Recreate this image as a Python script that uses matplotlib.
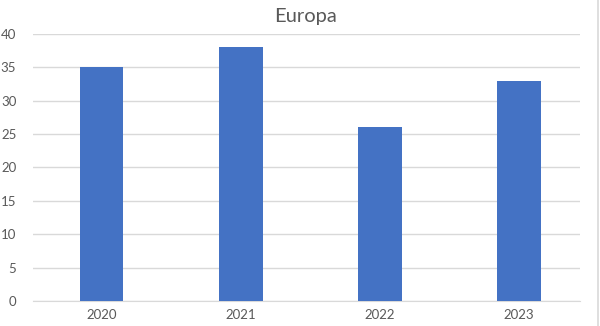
import matplotlib
matplotlib.use('Agg')
import matplotlib.pyplot as plt
from matplotlib.lines import Line2D

years = ['2020', '2021', '2022', '2023']
values = [35, 38, 26, 33]

plt.rcParams['font.family'] = ['Lato', 'DejaVu Sans']

fig = plt.figure(figsize=(6, 3.26), dpi=100)
ax = fig.add_axes([0.055, 0.0767, 0.9117, 0.819])

ax.bar(range(len(years)), values, width=0.31, color='#4472C4', zorder=3)

ax.set_xlim(-0.496, 3.439)
ax.set_ylim(0, 40)
ax.set_yticks(range(0, 41, 5))
ax.set_xticks(range(len(years)))
ax.set_xticklabels(years)

ax.grid(axis='y', color='#D9D9D9', linewidth=1, zorder=0)
for s in ['top', 'right', 'left']:
    ax.spines[s].set_visible(False)
ax.spines['bottom'].set_color('#D9D9D9')
ax.tick_params(axis='both', length=0, labelsize=9.5, colors='#595959')
ax.tick_params(axis='x', pad=6)
ax.tick_params(axis='y', pad=12)

fig.text(0.51, 0.948, 'Europa', ha='center', va='center', fontsize=14.5, color='#595959')

# chart border, only the right edge shows in the reference
fig.lines.append(Line2D([0.997, 0.997], [0, 1], transform=fig.transFigure,
                        color='#D9D9D9', linewidth=1.2))

fig.savefig('out.png', dpi=100)
